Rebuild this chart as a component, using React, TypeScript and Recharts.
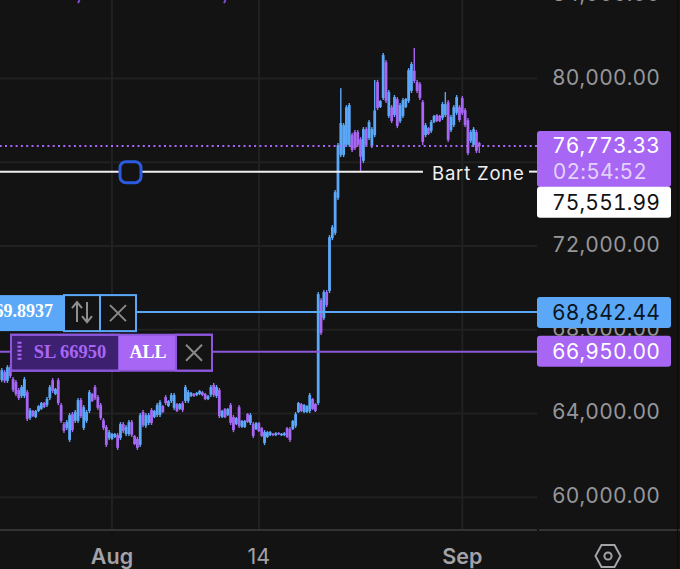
import React from 'react';
import { Bar, CartesianGrid, ComposedChart, ReferenceLine, XAxis, YAxis } from 'recharts';

const highs = [
  66170,66080,66310,66310,65740,65600,65220,65360,65740,65120,
  64260,64170,64170,64400,64550,64550,64790,65360,65690,65220,
  65690,64500,63590,63690,64020,64070,64170,64740,64740,64400,
  64170,65120,64980,65360,64880,64500,63780,63450,63210,
  63070,63070,63070,63590,63590,63450,63690,63690,62970,62880,
  64020,64170,64020,64020,64260,64170,64500,64640,64400,64880,
  64640,64980,64980,64500,64500,64590,65360,65120,65030,64980,
  65030,65120,65070,64980,64880,65360,65460,65360,65220,64170,
  64260,64260,64500,63930,63830,64400,63690,63690,64020,64020,
  63590,63590,63590,63350,63210,63160,63160,63070,63110,63110,
  63070,63110,63350,63350,63690,64070,64550,64500,64450,64400,
  64980,64740,64500,69800,69510,69900,69900,72520,73000,74670,
  76920,79540,77870,78730,78830,77400,77540,77540,77200,77680,
  77680,78020,77680,79930,79930,78970,81220,80880,79450,78730,
  79210,79110,78830,79070,79070,80500,80790,81460,79930,79830,
  78970,77870,77680,78020,78260,78300,78260,78880,79350,78970,
  78260,78730,79210,78730,79160,78590,78110,77540,77680,77540,76970,
];
const lows = [
  65500,65460,65460,65690,65030,64830,64640,64740,64740,63640,
  63690,63830,63780,64070,64170,64260,64310,64640,64980,64880,
  64400,63550,63070,63210,62640,63110,63550,63550,63780,63210,
  63550,64020,64550,64640,64170,63690,63210,62400,62730,
  62730,62830,62260,62730,63070,62920,62920,62880,62490,62260,
  62400,63350,63310,63450,63450,63780,63830,63830,64020,64400,
  64310,64500,64170,64070,64170,64070,64500,64500,64790,64790,
  64830,64880,64830,64640,64640,64790,64790,64740,63780,63780,
  63780,63880,63450,63110,63450,63310,63310,63310,63550,63450,
  62830,63210,63110,62880,62490,62830,62920,62920,62920,62970,
  62920,62920,62830,62640,63210,63310,64020,64070,64020,64020,
  64020,64170,64070,64400,67750,68460,69080,69750,72280,72520,
  74200,76250,76250,76730,76730,76490,76580,76730,75530,75960,
  76730,77060,76680,77200,78490,78590,78970,78830,78110,77870,
  78160,77630,77870,78110,78590,78830,79310,79780,79310,78970,
  76820,77200,77300,77400,77870,77920,77920,78020,78160,76970,
  77440,77680,78260,77920,78260,77680,76340,76920,76730,76440,76440,
];
const opens = [
  65600,65980,65560,66210,65640,65500,65120,64840,64840,65020,
  63790,64120,63830,64120,64220,64500,64410,64740,65590,64930,
  65590,64400,63490,63310,62740,63970,63650,63650,64640,63310,
  63650,64120,64930,65260,64780,64400,63680,63350,62830,
  62780,62880,62970,62830,63490,63020,63020,63590,62920,62780,
  62500,64070,63410,63550,64160,63830,63930,63930,64350,64780,
  64360,64600,64270,64450,64220,64490,64600,64600,64840,64930,
  64880,64930,65020,64930,64690,64890,65360,64840,65120,63830,
  64210,63930,64400,63830,63500,64300,63360,63360,63970,63550,
  63490,63260,63540,63300,62590,62880,62970,63030,62970,63070,
  62960,62970,63300,63250,63260,63410,64070,64450,64070,64070,
  64120,64690,64450,64500,69410,68560,69800,69850,72380,72620,
  74300,76350,76350,76830,76830,77300,77440,77440,77100,76070,
  77580,77160,76780,77300,79830,78640,79070,80780,78210,78630,
  78260,79010,77970,78210,78640,78930,79410,80370,79830,79730,
  78870,77300,77630,77500,77920,78250,78210,78120,78260,78870,
  77540,77780,78360,78630,79060,78490,78010,77020,76830,77440,76920,
];
const closes = [
  66070,65560,66210,65790,65130,64930,64740,65260,65640,63740,
  64160,63880,64120,64350,64500,64310,64690,65260,65080,65170,
  64500,63650,63170,63590,63920,63210,64070,64640,63880,64300,
  64070,65020,64600,64740,64270,63790,63310,62500,63110,
  63020,63020,62360,63490,63170,63350,63590,62980,62540,62360,
  63920,63450,63920,63920,63550,64120,64400,64540,64070,64500,
  64590,64880,64880,64120,64450,64170,65260,65020,64980,64840,
  64980,65070,64880,64690,64830,65260,64890,65260,63880,64120,
  63830,64210,63550,63210,63780,63410,63640,63640,63600,63920,
  62930,63540,63160,62930,63110,63110,63110,62960,63060,63010,
  63030,63060,62880,62740,63640,63970,64500,64120,64400,64350,
  64880,64220,64120,69700,67850,69800,69180,72420,72900,74570,
  76820,77870,77770,78630,78730,76590,76680,76830,76270,77580,
  76830,77920,77580,78470,78590,78920,81120,78930,79350,77970,
  79110,77730,78730,78970,79020,80400,80690,79880,79410,79070,
  76970,77770,77350,77920,78210,77970,77970,78780,78770,77070,
  78160,78630,79110,78020,78360,77780,76440,77440,77580,76540,76773,
];

const FIRST_DAY = -9.75; // days relative to 1 Aug; one candle every six hours
const CANDLE_DAYS = 0.25;
const priceTicks = [60000, 64000, 68000, 72000, 76000, 80000, 84000];
const hiddenPriceTick = 76000; // fully covered by the live price tag
const halfHiddenPriceTick = 68000; // squeezed between two tags
const dayTicks = [0, 13, 31];
const dayLabels = ['Aug', '14', 'Sep'];
const dayDomain = [-9.91, 37.61];
const priceDomain = [58435, 85660];

const LAST_PRICE = 76773.33;
const COUNTDOWN = '02:54:52';
const ZONE_PRICE = 75551.99;
const ENTRY_PRICE = 68842.44;
const STOP_PRICE = 66950;

const rows = highs.map((high, i) => ({
  day: FIRST_DAY + i * CANDLE_DAYS,
  high,
  low: lows[i],
  open: opens[i],
  close: closes[i],
}));

const BG = '#131313';
const BLUE = '#5CA8F8';
const PURPLE = '#A866F5';
const FONT = 'Inter, sans-serif';
const SERIF = '"Liberation Serif", serif';
const TNUM = { fontVariantNumeric: 'tabular-nums' } as const;
const SPACING = 0.15;
const money = (v: number) => v.toLocaleString('en-US', { minimumFractionDigits: 2, maximumFractionDigits: 2 });

function Candle(props: any) {
  const { x, y, width, height, payload } = props;
  const span = payload.high - payload.low;
  const unit = span > 0 ? height / span : 0;
  const up = payload.close >= payload.open;
  const color = up ? BLUE : PURPLE;
  const top = y + (payload.high - Math.max(payload.open, payload.close)) * unit;
  const bodyH = Math.max(1, Math.abs(payload.close - payload.open) * unit);
  return (
    <g>
      <rect x={x + width / 2 - 0.7} y={y} width={1.4} height={height} fill={color} />
      <rect x={x} y={top} width={width} height={bodyH} fill={color} />
    </g>
  );
}

function PriceTag({ y, h, fill, text, color }: any) {
  return (
    <g>
      <rect x={537} y={y} width={134} height={h} rx={3} fill={fill} />
      <text x={660} y={y + h / 2 + 7.5} textAnchor="end" fontFamily={FONT} fontSize={21} letterSpacing={SPACING} fill={color} style={TNUM}>{text}</text>
    </g>
  );
}

function LastTag({ viewBox }: any) {
  const y = viewBox.y;
  return (
    <g>
      <rect x={537} y={y - 15} width={134} height={56} rx={3} fill={PURPLE} />
      <text x={660} y={y + 6.5} textAnchor="end" fontFamily={FONT} fontSize={21} letterSpacing={SPACING} fill="#fff" style={TNUM}>{money(LAST_PRICE)}</text>
      <text x={647} y={y + 32.5} textAnchor="end" fontFamily={FONT} fontSize={21} letterSpacing={SPACING} fill="#E2D2FB" style={TNUM}>{COUNTDOWN}</text>
    </g>
  );
}

function ZoneTag({ viewBox }: any) {
  const y = viewBox.y;
  return (
    <g>
      <rect x={120} y={y - 10} width={21} height={21} rx={6} fill={BG} stroke="#2C5BE0" strokeWidth={3} />
      <text x={432} y={y + 8} fontFamily={FONT} fontSize={18.5} letterSpacing={0.8} fill="#f0f0f0">Bart Zone</text>
      <PriceTag y={y + 15} h={31} fill="#fff" text={money(ZONE_PRICE)} color="#111" />
    </g>
  );
}

function Cross({ cx, cy }: any) {
  return <path d={`M${cx - 8} ${cy - 8}L${cx + 8} ${cy + 8}M${cx + 8} ${cy - 8}L${cx - 8} ${cy + 8}`} stroke="#8a8a8a" strokeWidth={2} fill="none" />;
}

function EntryTag({ viewBox }: any) {
  const y = viewBox.y;
  const top = y - 17;
  return (
    <g>
      <rect x={-2} y={top} width={66} height={36} fill={BLUE} />
      <text x={53} y={y + 5} textAnchor="end" fontFamily={SERIF} fontWeight={700} fontSize={18} fill="#fff">69.8937</text>
      <rect x={64} y={top} width={36} height={36} fill={BG} stroke={BLUE} strokeWidth={2} />
      <rect x={100} y={top} width={36} height={36} fill={BG} stroke={BLUE} strokeWidth={2} />
      <path d={`M77 ${y + 10}V${y - 9}M72 ${y - 4}L77 ${y - 10}L82 ${y - 4}M87 ${y - 10}V${y + 9}M82 ${y + 4}L87 ${y + 10}L92 ${y + 4}`} stroke="#8f8f8f" strokeWidth={2} fill="none" />
      <Cross cx={118} cy={y + 1} />
      <PriceTag y={y - 15} h={31} fill={BLUE} text={money(ENTRY_PRICE)} color="#0a1420" />
    </g>
  );
}

function StopTag({ viewBox }: any) {
  const y = viewBox.y;
  const top = y - 17;
  return (
    <g>
      <rect x={11} y={top} width={108} height={36} fill="#3E2070" stroke="#8D57DC" strokeWidth={2} />
      <rect x={119} y={top} width={57} height={36} fill={PURPLE} />
      <rect x={176} y={top} width={36} height={36} fill={BG} stroke="#8D57DC" strokeWidth={2} />
      <rect x={11} y={top} width={201} height={36} fill="none" stroke="#8D57DC" strokeWidth={2} />
      <line x1={19.5} x2={19.5} y1={y - 10} y2={y + 10} stroke={PURPLE} strokeWidth={4} strokeDasharray="2 2" />
      <text x={70} y={y + 6} textAnchor="middle" fontFamily={SERIF} fontWeight={700} fontSize={18.5} fill={PURPLE}>SL 66950</text>
      <text x={148} y={y + 6} textAnchor="middle" fontFamily={SERIF} fontWeight={700} fontSize={18} fill="#fff">ALL</text>
      <Cross cx={194} cy={y + 1} />
      <PriceTag y={y - 16} h={31} fill={PURPLE} text={money(STOP_PRICE)} color="#fff" />
    </g>
  );
}

function DayTick({ x, y, payload }: any) {
  const i = dayTicks.indexOf(payload.value);
  const label = dayLabels[i];
  return (
    <text x={x} y={y + 26} textAnchor="middle" fontFamily={FONT} fontSize={21.5} fontWeight={label === '14' ? 400 : 600} fill="#a2a2a8">{label}</text>
  );
}

function PriceTick({ x, y, payload }: any) {
  if (payload.value === hiddenPriceTick) return <g />;
  const clipped = payload.value === halfHiddenPriceTick;
  return (
    <g>
      {clipped && (
        <clipPath id="betweenTags">
          <rect x={537} y={y - 2} width={134} height={8} />
        </clipPath>
      )}
      <text x={660} y={y + 6} textAnchor="end" fontFamily={FONT} fontSize={21} letterSpacing={SPACING} fill="#96969b" style={TNUM} clipPath={clipped ? 'url(#betweenTags)' : undefined}>{money(payload.value)}</text>
    </g>
  );
}

export default function App() {
  return (
    <div style={{ position: 'fixed', left: 0, top: 0, width: 680, height: 569, overflow: 'hidden', background: BG }}>
      <div style={{ position: 'absolute', left: 0, top: -40 }}>
        <ComposedChart width={680} height={609} data={rows} margin={{ top: 0, right: 0, bottom: 0, left: 0 }}>
          <CartesianGrid stroke="#212121" strokeWidth={2} verticalValues={dayTicks} horizontalValues={priceTicks} />
          <XAxis
            dataKey="day"
            type="number"
            domain={dayDomain}
            allowDataOverflow
            ticks={dayTicks}
            interval={0}
            height={39}
            tick={<DayTick />}
            tickLine={false}
            axisLine={{ stroke: '#333333', strokeWidth: 2 }}
          />
          <YAxis
            orientation="right"
            type="number"
            domain={priceDomain}
            allowDataOverflow
            ticks={priceTicks}
            interval={0}
            width={143}
            tick={<PriceTick />}
            tickLine={false}
            axisLine={false}
          />
          <Bar dataKey={(d: any) => [d.low, d.high]} barSize={2.8} shape={<Candle />} isAnimationActive={false} />
          <ReferenceLine y={ENTRY_PRICE} stroke={BLUE} strokeWidth={2} label={(p: any) => <EntryTag {...p} />} />
          <ReferenceLine y={STOP_PRICE} stroke="#8D57DC" strokeWidth={2} label={(p: any) => <StopTag {...p} />} />
          <ReferenceLine y={LAST_PRICE} stroke={PURPLE} strokeWidth={2} strokeDasharray="2 3.3" label={(p: any) => <LastTag {...p} />} />
          <ReferenceLine segment={[{ x: dayDomain[0], y: ZONE_PRICE }, { x: 27.52, y: ZONE_PRICE }]} stroke="#f0f0f0" strokeWidth={2} />
          <ReferenceLine segment={[{ x: 36.9, y: ZONE_PRICE }, { x: dayDomain[1], y: ZONE_PRICE }]} stroke="#f0f0f0" strokeWidth={2} />
          <ReferenceLine y={ZONE_PRICE} stroke="none" label={(p: any) => <ZoneTag {...p} />} />
          <ReferenceLine segment={[{ x: -2.88, y: 83749 }, { x: -3, y: 83600 }]} stroke="#7B4FD8" strokeWidth={2} />
          <ReferenceLine segment={[{ x: 10.04, y: 83749 }, { x: 9.92, y: 83600 }]} stroke="#7B4FD8" strokeWidth={2} />
        </ComposedChart>
      </div>
      <div style={{ position: 'absolute', left: 539, top: 529, width: 141, height: 2, background: '#333333' }} />
      <div style={{ position: 'absolute', left: 677, top: 0, width: 1, height: 569, background: '#0b0b0b' }} />
      <svg style={{ position: 'absolute', left: 594, top: 543 }} width={28} height={26} viewBox="0 0 28 26">
        <path d="M1.5 13L7.5 2H20.5L26.5 13L20.5 24H7.5Z" fill="none" stroke="#a2a2a8" strokeWidth={2} />
        <circle cx={14} cy={13} r={3.6} fill="none" stroke="#a2a2a8" strokeWidth={2} />
      </svg>
    </div>
  );
}
